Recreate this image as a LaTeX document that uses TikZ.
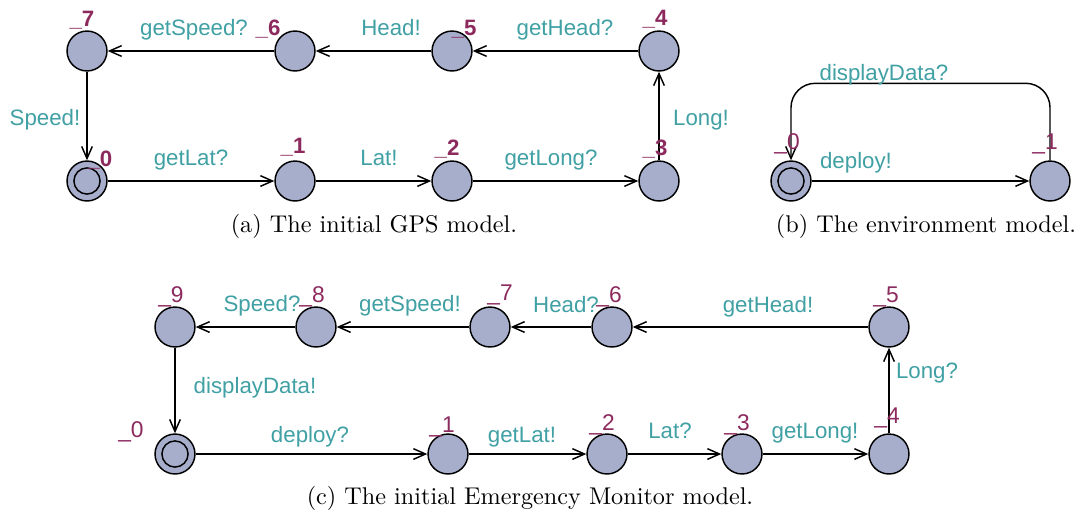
\documentclass[tikz,border=0pt]{standalone}
\usepackage{fontspec}
\usetikzlibrary{arrows.meta,positioning}
\newfontfamily\uppsans{Liberation Sans}
\definecolor{locfill}{RGB}{166,174,204}
\definecolor{syncteal}{RGB}{64,160,164}
\definecolor{nameplum}{RGB}{140,42,94}
\tikzset{
  loc/.style={circle,draw=black,fill=locfill,line width=0.6pt,
    minimum size=16.5pt,inner sep=0pt},
  initloc/.style={loc,path picture={\draw[line width=0.6pt]
    (path picture bounding box.center) circle (5.4pt);}},
  tarrow/.style={-{Straight Barb[length=5pt,width=4.4pt]},line width=0.6pt},
  sync/.style={font=\uppsans\fontsize{9.2}{11}\selectfont,color=syncteal,
    anchor=base,inner sep=0pt},
  lname/.style={font=\uppsans\fontsize{9.4}{11}\selectfont,color=nameplum,
    anchor=base,inner sep=0pt},
  bname/.style={lname,font=\uppsans\bfseries\fontsize{9.2}{11}\selectfont},
  capt/.style={anchor=base,inner sep=0pt}
}
\begin{document}
\begin{tikzpicture}[x=0.413pt,y=-0.413pt]
  \useasboundingbox (0,0) rectangle (1083,515);

  % (a) GPS model
  \node[initloc] (a0) at (87,181) {};
  \node[loc] (a1) at (295,181) {};
  \node[loc] (a2) at (452,181) {};
  \node[loc] (a3) at (659,181) {};
  \node[loc] (a4) at (659,51) {};
  \node[loc] (a5) at (452,51) {};
  \node[loc] (a6) at (295,51) {};
  \node[loc] (a7) at (87,51) {};
  \foreach \a/\b in {a0/a1,a1/a2,a2/a3,a3/a4,a4/a5,a5/a6,a6/a7,a7/a0}
    \draw[tarrow] (\a) -- (\b);
  \node[sync] (ga01) at (191,165) {getLat?};
  \node[sync] (ga12) at (379,165) {Lat!};
  \node[sync] (ga23) at (551,165) {getLong?};
  \node[sync] (ga34) at (701,125) {Long!};
  \node[sync] (ga45) at (565,35) {getHead?};
  \node[sync] (ga56) at (391,35) {Head!};
  \node[sync] (ga67) at (194,35) {getSpeed?};
  \node[sync] (ga70) at (45,125) {Speed!};
  \foreach \n/\x/\y in {0/100/166,1/293/153,2/447/155,3/655/155,
                        4/655/25,5/464/35,6/268/35,7/82/26}
    \node[bname] (na\n) at (\x,\y) {\_\n};
  \node[capt] (capa) at (374,232) {(a) The initial GPS model.};

  % (b) environment model
  \node[initloc] (b0) at (791,181) {};
  \node[loc] (b1) at (1050,181) {};
  \draw[tarrow] (b0) -- (b1);
  \draw[tarrow,rounded corners=10pt] (b1.north) -- ++(0,-77) -| (b0);
  \node[sync] (gb01) at (856,168) {deploy!};
  \node[sync] (gb10) at (884,80) {displayData?};
  \node[lname] (nb0) at (787,149) {\_0};
  \node[lname] (nb1) at (1045,149) {\_1};
  \node[capt] (capb) at (926,232) {(b) The environment model.};

  % (c) Emergency Monitor model
  \node[initloc] (c0) at (175,454) {};
  \node[loc] (c1) at (448,454) {};
  \node[loc] (c2) at (607,454) {};
  \node[loc] (c3) at (742,454) {};
  \node[loc] (c4) at (889,454) {};
  \node[loc] (c5) at (889,327) {};
  \node[loc] (c6) at (612,327) {};
  \node[loc] (c7) at (490,327) {};
  \node[loc] (c8) at (316,327) {};
  \node[loc] (c9) at (175,327) {};
  \foreach \a/\b in {c0/c1,c1/c2,c2/c3,c3/c4,c4/c5,c5/c6,c6/c7,c7/c8,c8/c9,c9/c0}
    \draw[tarrow] (\a) -- (\b);
  \node[sync] (gc01) at (310,442) {deploy?};
  \node[sync] (gc12) at (522,442) {getLat!};
  \node[sync] (gc23) at (670,438) {Lat?};
  \node[sync] (gc34) at (815,438) {getLong!};
  \node[sync] (gc45) at (927,378) {Long?};
  \node[sync] (gc56) at (768,312) {getHead!};
  \node[sync] (gc67) at (566,312) {Head?};
  \node[sync] (gc78) at (410,311) {getSpeed!};
  \node[sync] (gc89) at (262,311) {Speed?};
  \node[sync] (gc90) at (255,393) {displayData!};
  \foreach \n/\x/\y in {0/131/437,1/442/432,2/602/430,3/737/430,4/887/423,
                        5/886/302,6/609/302,7/500/300,8/312/302,9/171/302}
    \node[lname] (nc\n) at (\x,\y) {\_\n};
  \node[capt] (capc) at (530,504) {(c) The initial Emergency Monitor model.};
\end{tikzpicture}
\end{document}
